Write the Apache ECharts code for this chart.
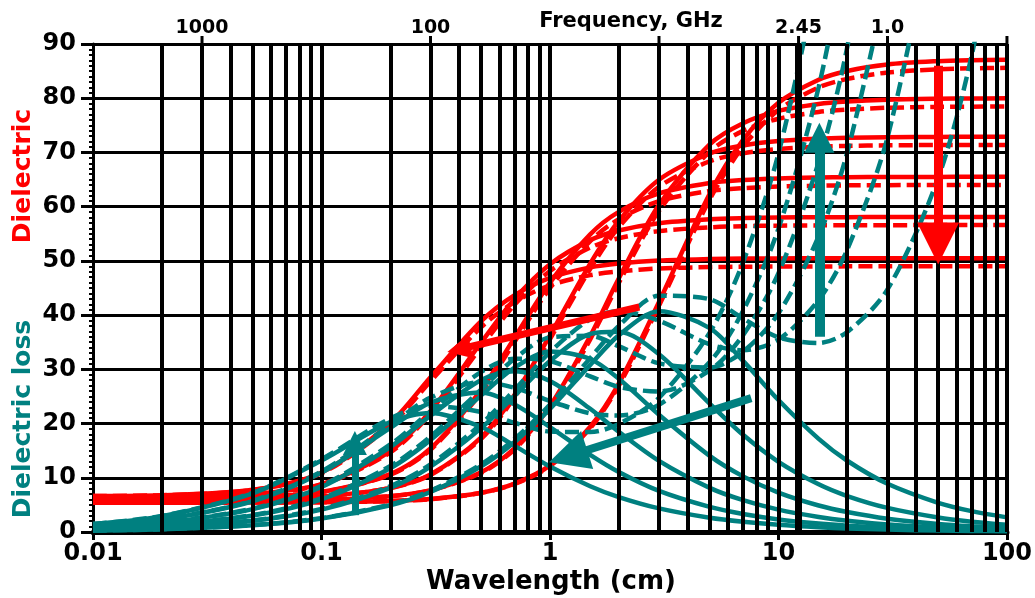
<!DOCTYPE html>
<html><head><meta charset="utf-8">
<script src="https://cdn.jsdelivr.net/npm/echarts@6/dist/echarts.min.js"></script>
<style>html,body{margin:0;padding:0;background:#fff}#c{width:1035px;height:598px}</style>
</head><body><div id="c"></div>
<script>
// Wavelength samples (cm)
const wavelength = [0.01,0.02,0.05,0.1,0.2,0.3,0.5,0.7,1,1.5,2,3,5,7,10,15,20,30,50,70,100];

// Dielectric constant (red), solid = pure water, dashed = salt solution; 0,20,40,60,80,100 °C
const epsT0   = [5.40,5.40,5.42,5.48,5.70,6.07,7.24,8.92,12.28,19.41,27.37,42.41,62.38,72.33,79.17,83.42,85.03,86.22,86.84,87.02,87.11];
const epsT20  = [5.70,5.71,5.76,5.93,6.61,7.71,11.02,15.46,23.22,36.15,46.75,60.33,71.48,75.39,77.67,78.95,79.40,79.73,79.90,79.95,79.98];
const epsT40  = [6.01,6.02,6.14,6.55,8.14,10.63,17.46,25.29,36.27,49.50,57.36,64.97,69.81,71.29,72.10,72.54,72.70,72.81,72.87,72.89,72.89];
const epsT60  = [6.21,6.25,6.50,7.39,10.68,15.40,26.23,35.85,46.00,54.89,59.03,62.44,64.36,64.91,65.21,65.37,65.43,65.47,65.49,65.50,65.50];
const epsT80  = [6.43,6.50,7.03,8.83,14.93,22.31,34.96,42.98,49.39,53.83,55.61,56.96,57.68,57.89,58.00,58.05,58.07,58.09,58.10,58.10,58.10];
const epsT100 = [6.65,6.79,7.79,10.99,20.11,28.55,38.88,43.69,46.88,48.81,49.53,50.07,50.34,50.42,50.46,50.48,50.49,50.50,50.50,50.50,50.50];

const epsSaltT0   = [5.40,5.40,5.42,5.48,5.69,6.06,7.21,8.86,12.15,19.15,26.97,41.73,61.33,71.10,77.82,81.99,83.57,84.74,85.35,85.52,85.61];
const epsSaltT20  = [5.70,5.71,5.76,5.93,6.59,7.67,10.91,15.26,22.87,35.54,45.92,59.23,70.15,73.98,76.22,77.47,77.91,78.24,78.40,78.45,78.48];
const epsSaltT40  = [6.01,6.02,6.14,6.54,8.09,10.53,17.20,24.86,35.59,48.53,56.21,63.65,68.38,69.83,70.62,71.05,71.20,71.31,71.37,71.39,71.39];
const epsSaltT60  = [6.21,6.25,6.49,7.36,10.57,15.17,25.72,35.10,44.99,53.66,57.69,61.02,62.89,63.42,63.72,63.87,63.93,63.97,63.99,64.00,64.00];
const epsSaltT80  = [6.43,6.50,7.01,8.76,14.68,21.85,34.13,41.92,48.14,52.45,54.18,55.49,56.19,56.40,56.50,56.55,56.57,56.59,56.60,56.60,56.60];
const epsSaltT100 = [6.65,6.78,7.75,10.84,19.65,27.80,37.78,42.42,45.50,47.37,48.06,48.59,48.85,48.92,48.96,48.98,48.99,49.00,49.00,49.00,49.00];

// Dielectric loss (teal)
const lossT0   = [0.25,0.50,1.24,2.48,4.94,7.38,12.12,16.61,22.70,30.82,36.26,40.72,37.61,31.55,24.34,17.17,13.14,8.89,5.38,3.85,2.70];
const lossT20  = [0.41,0.83,2.06,4.12,8.15,12.05,19.16,25.10,31.54,36.54,36.94,32.78,23.68,17.92,12.95,8.79,6.63,4.44,2.67,1.91,1.34];
const lossT40  = [0.61,1.22,3.03,6.03,11.77,16.99,25.20,30.31,33.30,31.90,28.25,21.62,14.04,10.26,7.27,4.88,3.68,2.45,1.47,1.05,0.74];
const lossT60  = [0.85,1.69,4.21,8.30,15.66,21.47,28.05,29.65,27.86,22.72,18.49,13.12,8.14,5.87,4.13,2.77,2.07,1.38,0.83,0.59,0.42];
const lossT80  = [1.15,2.29,5.67,10.95,19.19,23.86,25.71,23.52,19.35,14.23,11.07,7.58,4.62,3.31,2.32,1.55,1.16,0.78,0.47,0.33,0.23];
const lossT100 = [1.46,2.91,7.12,13.17,20.26,21.95,19.37,15.89,12.08,8.44,6.44,4.35,2.62,1.88,1.32,0.88,0.66,0.44,0.26,0.19,0.13];

const lossSaltT0   = [0.26,0.51,1.28,2.56,5.09,7.61,12.50,17.15,23.49,32.07,38.01,43.59,42.93,39.38,35.90,34.86,36.90,44.73,65.28,87.78,122.65];
const lossSaltT20  = [0.42,0.86,2.13,4.27,8.45,12.49,19.92,26.20,33.19,39.23,40.76,38.96,34.61,33.52,35.49,42.81,52.10,72.75,116.62,null,null];
const lossSaltT40  = [0.63,1.26,3.13,6.23,12.17,17.62,26.31,31.96,35.89,36.18,34.27,31.10,30.33,33.27,40.31,54.57,70.00,102.0,null,null,null];
const lossSaltT60  = [0.87,1.74,4.32,8.53,16.14,22.24,29.54,31.97,31.53,28.71,26.77,25.90,29.79,36.31,47.73,68.25,89.42,132.4,null,null,null];
const lossSaltT80  = [1.17,2.33,5.78,11.17,19.70,24.78,27.65,26.60,24.16,21.88,21.49,23.47,31.34,40.80,55.95,82.06,108.53,null,null,null,null];
const lossSaltT100 = [1.48,2.95,7.22,13.41,20.94,23.26,22.14,20.15,18.52,18.43,19.92,24.75,36.78,49.77,69.78,103.6,null,null,null,null,null];

// Axis ticks
const xTickLabels = ['0.01','0.1','1','10','100'];
const gridWavelengths = [0.02,0.03,0.04,0.05,0.06,0.07,0.08,0.09,0.1,0.2,0.3,0.4,0.5,0.6,0.7,0.8,0.9,1,2,3,4,5,6,7,8,9,10,20,30,40,50,60,70,80,90,100];
const freqTicks = [1000,100,10,2.45,1.0,0.3];   // GHz
const freqTickLabels = ['1000','100','','2.45','1.0',''];
const markFreq = 2.45; // GHz

// Arrows [wavelength, value] start -> head centre
const arrows = [
  {from:[50,86], to:[50,53.2], color:'#ff0000', width:9, size:42},
  {from:[2.46,41.5], to:[0.40,33.7], color:'#ff0000', width:7, size:24},
  {from:[0.14,3.1], to:[0.14,16.4], color:'#008080', width:7, size:24},
  {from:[7.6,24.7], to:[1.2,14.0], color:'#008080', width:8, size:40},
  {from:[15.1,36], to:[15.1,72.7], color:'#008080', width:10, size:30}
];

const RED = '#ff0000', TEAL = '#008080';
const FONT = 'DejaVu Sans';

function curve(vals, color, dashed, z) {
  return {
    type:'line', z:z, silent:true, symbol:'none', smooth:0.3, clip:true,
    data: wavelength.map((w,i)=>[w, vals[i]]),
    lineStyle:{color:color, width:4.5, type: dashed ? [14,6] : 'solid'}
  };
}

const topLabelStyle = {show:true, position:'top', distance:-2, color:'#000', opacity:1,
  fontFamily:FONT, fontWeight:'bold', fontSize:19, textBorderWidth:0};

const series = [];
// grid lines
series.push({
  type:'line', data:[], z:1, silent:true,
  markLine:{silent:true, symbol:'none', animation:false, label:{show:false},
    lineStyle:{color:'#000', width:4, type:'solid'},
    data: gridWavelengths.map(v=>({xAxis:v}))
      .concat([{xAxis: 30/markFreq, lineStyle:{width:7, color:'#000', type:'solid'}}])
  }
});
[epsT0,epsT20,epsT40,epsT60,epsT80,epsT100].forEach(v=>series.push(curve(v, RED, false, 3)));
[epsSaltT0,epsSaltT20,epsSaltT40,epsSaltT60,epsSaltT80,epsSaltT100].forEach(v=>series.push(curve(v, RED, true, 3)));
[lossT0,lossT20,lossT40,lossT60,lossT80,lossT100].forEach(v=>series.push(curve(v, TEAL, false, 4)));
[lossSaltT0,lossSaltT20,lossSaltT40,lossSaltT60,lossSaltT80,lossSaltT100].forEach(v=>series.push(curve(v, TEAL, true, 4)));
arrows.forEach(a=>series.push({
  type:'line', data:[], z:5, silent:true,
  markLine:{silent:true, animation:false, symbol:['none','triangle'], symbolSize:a.size, label:{show:false},
    lineStyle:{color:a.color, width:a.width, type:'solid'},
    itemStyle:{color:a.color},
    data:[[{coord:a.from},{coord:a.to}]]
  }
}));
// top frequency ticks
series.push({
  type:'scatter', z:6, silent:true, clip:false,
  symbol:'rect', symbolSize:[3,8], symbolOffset:[0,-4],
  itemStyle:{color:'#000', opacity:1},
  emphasis:{disabled:true},
  data: freqTicks.map((f,i)=>({value:[30/f, 90], label:Object.assign({}, topLabelStyle, {formatter:freqTickLabels[i]})})),
  label:topLabelStyle
});

const chart = echarts.init(document.getElementById('c'), null, {renderer:'canvas'});
chart.setOption({
  animation:false,
  backgroundColor:'#fff',
  grid:{left:93, right:27, top:44, bottom:66, containLabel:false},
  xAxis:{type:'log', logBase:10, min:0.01, max:100,
    axisLine:{onZero:false, lineStyle:{color:'#000', width:5}},
    axisTick:{show:true, length:8, lineStyle:{color:'#000', width:3}},
    splitLine:{show:false},
    axisLabel:{color:'#000', fontFamily:FONT, fontWeight:'bold', fontSize:24, margin:10,
      formatter:v=>xTickLabels[Math.round(Math.log10(v))+2]}
  },
  yAxis:{type:'value', min:0, max:90, interval:10,
    axisLine:{show:true, lineStyle:{color:'#000', width:3}},
    axisTick:{show:true, length:12, lineStyle:{color:'#000', width:3}},
    minorTick:{show:true, splitNumber:10, length:4, lineStyle:{color:'#000', width:2}},
    splitLine:{show:true, lineStyle:{color:'#000', width:3}},
    axisLabel:{color:'#000', fontFamily:FONT, fontWeight:'bold', fontSize:24, margin:17}
  },
  graphic:[
    {type:'text', x:631, y:22, style:{text:'Frequency, GHz', fill:'#000', font:'bold 21px "DejaVu Sans"', align:'center', verticalAlign:'middle'}},
    {type:'text', x:551, y:582, style:{text:'Wavelength (cm)', fill:'#000', font:'bold 26px "DejaVu Sans"', align:'center', verticalAlign:'middle'}},
    {type:'text', x:23, y:176, rotation:Math.PI/2, style:{text:'Dielectric', fill:RED, font:'bold 25px "DejaVu Sans"', align:'center', verticalAlign:'middle'}},
    {type:'text', x:23, y:419, rotation:Math.PI/2, style:{text:'Dielectric loss', fill:TEAL, font:'bold 25px "DejaVu Sans"', align:'center', verticalAlign:'middle'}}
  ],
  series:series
});
</script></body></html>
